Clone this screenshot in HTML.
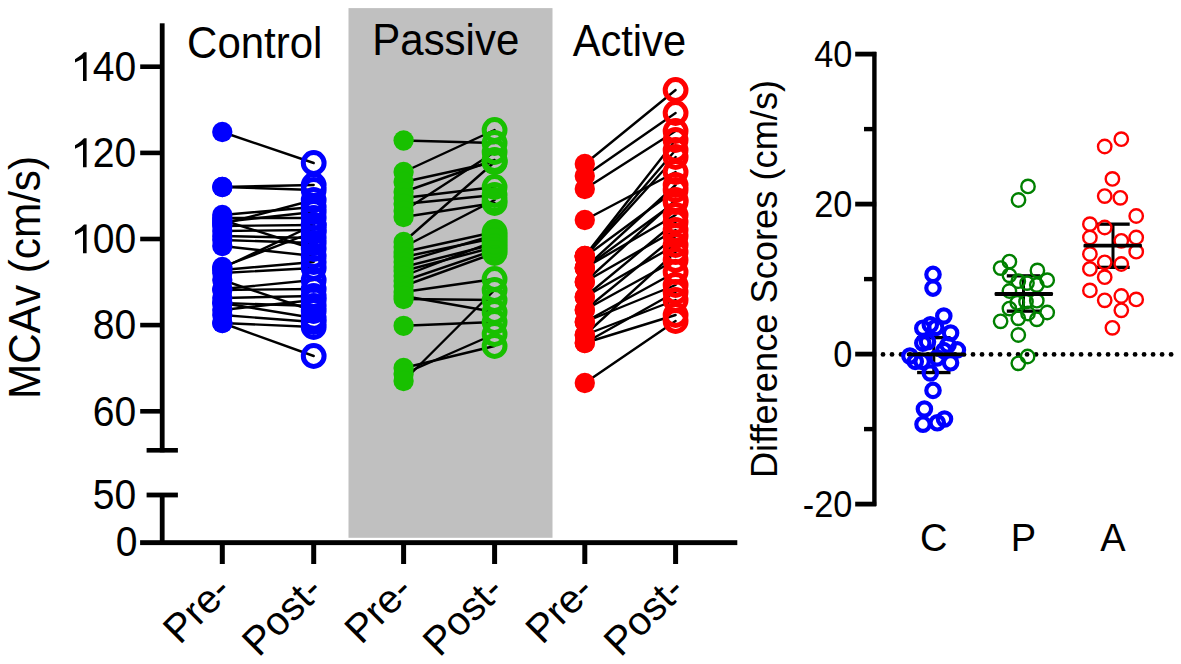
<!DOCTYPE html>
<html><head><meta charset="utf-8"><style>html,body{margin:0;padding:0;background:#fff;overflow:hidden}svg{display:block}</style></head>
<body><svg width="1181" height="664" viewBox="0 0 1181 664">
<rect x="0" y="0" width="1181" height="664" fill="#fff"/>
<rect x="348.5" y="8.1" width="204" height="529.7" fill="#c0c0c0"/>
<line x1="222.3" y1="132" x2="313.7" y2="163" stroke="#000" stroke-width="2.4" stroke-linecap="round"/>
<line x1="222.3" y1="187" x2="313.7" y2="185" stroke="#000" stroke-width="2.4" stroke-linecap="round"/>
<line x1="222.3" y1="187" x2="313.7" y2="190" stroke="#000" stroke-width="2.4" stroke-linecap="round"/>
<line x1="222.3" y1="215" x2="313.7" y2="207" stroke="#000" stroke-width="2.4" stroke-linecap="round"/>
<line x1="222.3" y1="218" x2="313.7" y2="218" stroke="#000" stroke-width="2.4" stroke-linecap="round"/>
<line x1="222.3" y1="220" x2="313.7" y2="249" stroke="#000" stroke-width="2.4" stroke-linecap="round"/>
<line x1="222.3" y1="222" x2="313.7" y2="212" stroke="#000" stroke-width="2.4" stroke-linecap="round"/>
<line x1="222.3" y1="224" x2="313.7" y2="200" stroke="#000" stroke-width="2.4" stroke-linecap="round"/>
<line x1="222.3" y1="226" x2="313.7" y2="225" stroke="#000" stroke-width="2.4" stroke-linecap="round"/>
<line x1="222.3" y1="231" x2="313.7" y2="230" stroke="#000" stroke-width="2.4" stroke-linecap="round"/>
<line x1="222.3" y1="236" x2="313.7" y2="238" stroke="#000" stroke-width="2.4" stroke-linecap="round"/>
<line x1="222.3" y1="240" x2="313.7" y2="243" stroke="#000" stroke-width="2.4" stroke-linecap="round"/>
<line x1="222.3" y1="246" x2="313.7" y2="256" stroke="#000" stroke-width="2.4" stroke-linecap="round"/>
<line x1="222.3" y1="267" x2="313.7" y2="232" stroke="#000" stroke-width="2.4" stroke-linecap="round"/>
<line x1="222.3" y1="268" x2="313.7" y2="225" stroke="#000" stroke-width="2.4" stroke-linecap="round"/>
<line x1="222.3" y1="270" x2="313.7" y2="262" stroke="#000" stroke-width="2.4" stroke-linecap="round"/>
<line x1="222.3" y1="273" x2="313.7" y2="268" stroke="#000" stroke-width="2.4" stroke-linecap="round"/>
<line x1="222.3" y1="280" x2="313.7" y2="311" stroke="#000" stroke-width="2.4" stroke-linecap="round"/>
<line x1="222.3" y1="289" x2="313.7" y2="280" stroke="#000" stroke-width="2.4" stroke-linecap="round"/>
<line x1="222.3" y1="290" x2="313.7" y2="289" stroke="#000" stroke-width="2.4" stroke-linecap="round"/>
<line x1="222.3" y1="298" x2="313.7" y2="296" stroke="#000" stroke-width="2.4" stroke-linecap="round"/>
<line x1="222.3" y1="303" x2="313.7" y2="306" stroke="#000" stroke-width="2.4" stroke-linecap="round"/>
<line x1="222.3" y1="303" x2="313.7" y2="318" stroke="#000" stroke-width="2.4" stroke-linecap="round"/>
<line x1="222.3" y1="323" x2="313.7" y2="327" stroke="#000" stroke-width="2.4" stroke-linecap="round"/>
<line x1="222.3" y1="323" x2="313.7" y2="356" stroke="#000" stroke-width="2.4" stroke-linecap="round"/>
<line x1="222.3" y1="310" x2="313.7" y2="300" stroke="#000" stroke-width="2.4" stroke-linecap="round"/>
<line x1="222.3" y1="315" x2="313.7" y2="322" stroke="#000" stroke-width="2.4" stroke-linecap="round"/>
<circle cx="313.7" cy="163" r="10.4" fill="none" stroke="#0000ff" stroke-width="5"/>
<circle cx="313.7" cy="185" r="10.4" fill="none" stroke="#0000ff" stroke-width="5"/>
<circle cx="313.7" cy="190" r="10.4" fill="none" stroke="#0000ff" stroke-width="5"/>
<circle cx="313.7" cy="207" r="10.4" fill="none" stroke="#0000ff" stroke-width="5"/>
<circle cx="313.7" cy="218" r="10.4" fill="none" stroke="#0000ff" stroke-width="5"/>
<circle cx="313.7" cy="249" r="10.4" fill="none" stroke="#0000ff" stroke-width="5"/>
<circle cx="313.7" cy="212" r="10.4" fill="none" stroke="#0000ff" stroke-width="5"/>
<circle cx="313.7" cy="200" r="10.4" fill="none" stroke="#0000ff" stroke-width="5"/>
<circle cx="313.7" cy="225" r="10.4" fill="none" stroke="#0000ff" stroke-width="5"/>
<circle cx="313.7" cy="230" r="10.4" fill="none" stroke="#0000ff" stroke-width="5"/>
<circle cx="313.7" cy="238" r="10.4" fill="none" stroke="#0000ff" stroke-width="5"/>
<circle cx="313.7" cy="243" r="10.4" fill="none" stroke="#0000ff" stroke-width="5"/>
<circle cx="313.7" cy="256" r="10.4" fill="none" stroke="#0000ff" stroke-width="5"/>
<circle cx="313.7" cy="232" r="10.4" fill="none" stroke="#0000ff" stroke-width="5"/>
<circle cx="313.7" cy="225" r="10.4" fill="none" stroke="#0000ff" stroke-width="5"/>
<circle cx="313.7" cy="262" r="10.4" fill="none" stroke="#0000ff" stroke-width="5"/>
<circle cx="313.7" cy="268" r="10.4" fill="none" stroke="#0000ff" stroke-width="5"/>
<circle cx="313.7" cy="311" r="10.4" fill="none" stroke="#0000ff" stroke-width="5"/>
<circle cx="313.7" cy="280" r="10.4" fill="none" stroke="#0000ff" stroke-width="5"/>
<circle cx="313.7" cy="289" r="10.4" fill="none" stroke="#0000ff" stroke-width="5"/>
<circle cx="313.7" cy="296" r="10.4" fill="none" stroke="#0000ff" stroke-width="5"/>
<circle cx="313.7" cy="306" r="10.4" fill="none" stroke="#0000ff" stroke-width="5"/>
<circle cx="313.7" cy="318" r="10.4" fill="none" stroke="#0000ff" stroke-width="5"/>
<circle cx="313.7" cy="327" r="10.4" fill="none" stroke="#0000ff" stroke-width="5"/>
<circle cx="313.7" cy="356" r="10.4" fill="none" stroke="#0000ff" stroke-width="5"/>
<circle cx="313.7" cy="300" r="10.4" fill="none" stroke="#0000ff" stroke-width="5"/>
<circle cx="313.7" cy="322" r="10.4" fill="none" stroke="#0000ff" stroke-width="5"/>
<circle cx="222.3" cy="132" r="10.15" fill="#0000ff"/>
<circle cx="222.3" cy="187" r="10.15" fill="#0000ff"/>
<circle cx="222.3" cy="187" r="10.15" fill="#0000ff"/>
<circle cx="222.3" cy="215" r="10.15" fill="#0000ff"/>
<circle cx="222.3" cy="218" r="10.15" fill="#0000ff"/>
<circle cx="222.3" cy="220" r="10.15" fill="#0000ff"/>
<circle cx="222.3" cy="222" r="10.15" fill="#0000ff"/>
<circle cx="222.3" cy="224" r="10.15" fill="#0000ff"/>
<circle cx="222.3" cy="226" r="10.15" fill="#0000ff"/>
<circle cx="222.3" cy="231" r="10.15" fill="#0000ff"/>
<circle cx="222.3" cy="236" r="10.15" fill="#0000ff"/>
<circle cx="222.3" cy="240" r="10.15" fill="#0000ff"/>
<circle cx="222.3" cy="246" r="10.15" fill="#0000ff"/>
<circle cx="222.3" cy="267" r="10.15" fill="#0000ff"/>
<circle cx="222.3" cy="268" r="10.15" fill="#0000ff"/>
<circle cx="222.3" cy="270" r="10.15" fill="#0000ff"/>
<circle cx="222.3" cy="273" r="10.15" fill="#0000ff"/>
<circle cx="222.3" cy="280" r="10.15" fill="#0000ff"/>
<circle cx="222.3" cy="289" r="10.15" fill="#0000ff"/>
<circle cx="222.3" cy="290" r="10.15" fill="#0000ff"/>
<circle cx="222.3" cy="298" r="10.15" fill="#0000ff"/>
<circle cx="222.3" cy="303" r="10.15" fill="#0000ff"/>
<circle cx="222.3" cy="303" r="10.15" fill="#0000ff"/>
<circle cx="222.3" cy="323" r="10.15" fill="#0000ff"/>
<circle cx="222.3" cy="323" r="10.15" fill="#0000ff"/>
<circle cx="222.3" cy="310" r="10.15" fill="#0000ff"/>
<circle cx="222.3" cy="315" r="10.15" fill="#0000ff"/>
<line x1="403.6" y1="140.5" x2="494.6" y2="143" stroke="#000" stroke-width="2.4" stroke-linecap="round"/>
<line x1="403.6" y1="172" x2="494.6" y2="130" stroke="#000" stroke-width="2.4" stroke-linecap="round"/>
<line x1="403.6" y1="182" x2="494.6" y2="162" stroke="#000" stroke-width="2.4" stroke-linecap="round"/>
<line x1="403.6" y1="192" x2="494.6" y2="160" stroke="#000" stroke-width="2.4" stroke-linecap="round"/>
<line x1="403.6" y1="198" x2="494.6" y2="187" stroke="#000" stroke-width="2.4" stroke-linecap="round"/>
<line x1="403.6" y1="204" x2="494.6" y2="195" stroke="#000" stroke-width="2.4" stroke-linecap="round"/>
<line x1="403.6" y1="211" x2="494.6" y2="152" stroke="#000" stroke-width="2.4" stroke-linecap="round"/>
<line x1="403.6" y1="217" x2="494.6" y2="203" stroke="#000" stroke-width="2.4" stroke-linecap="round"/>
<line x1="403.6" y1="242" x2="494.6" y2="162" stroke="#000" stroke-width="2.4" stroke-linecap="round"/>
<line x1="403.6" y1="247" x2="494.6" y2="200" stroke="#000" stroke-width="2.4" stroke-linecap="round"/>
<line x1="403.6" y1="252" x2="494.6" y2="232" stroke="#000" stroke-width="2.4" stroke-linecap="round"/>
<line x1="403.6" y1="257" x2="494.6" y2="238" stroke="#000" stroke-width="2.4" stroke-linecap="round"/>
<line x1="403.6" y1="262" x2="494.6" y2="235" stroke="#000" stroke-width="2.4" stroke-linecap="round"/>
<line x1="403.6" y1="267" x2="494.6" y2="244" stroke="#000" stroke-width="2.4" stroke-linecap="round"/>
<line x1="403.6" y1="271" x2="494.6" y2="247" stroke="#000" stroke-width="2.4" stroke-linecap="round"/>
<line x1="403.6" y1="276" x2="494.6" y2="241" stroke="#000" stroke-width="2.4" stroke-linecap="round"/>
<line x1="403.6" y1="281" x2="494.6" y2="250" stroke="#000" stroke-width="2.4" stroke-linecap="round"/>
<line x1="403.6" y1="286" x2="494.6" y2="253" stroke="#000" stroke-width="2.4" stroke-linecap="round"/>
<line x1="403.6" y1="292" x2="494.6" y2="279" stroke="#000" stroke-width="2.4" stroke-linecap="round"/>
<line x1="403.6" y1="299" x2="494.6" y2="300" stroke="#000" stroke-width="2.4" stroke-linecap="round"/>
<line x1="403.6" y1="296" x2="494.6" y2="312" stroke="#000" stroke-width="2.4" stroke-linecap="round"/>
<line x1="403.6" y1="325.8" x2="494.6" y2="322" stroke="#000" stroke-width="2.4" stroke-linecap="round"/>
<line x1="403.6" y1="368" x2="494.6" y2="346" stroke="#000" stroke-width="2.4" stroke-linecap="round"/>
<line x1="403.6" y1="374" x2="494.6" y2="334" stroke="#000" stroke-width="2.4" stroke-linecap="round"/>
<line x1="403.6" y1="381" x2="494.6" y2="290" stroke="#000" stroke-width="2.4" stroke-linecap="round"/>
<circle cx="494.6" cy="143" r="10.4" fill="none" stroke="#18c000" stroke-width="5"/>
<circle cx="494.6" cy="130" r="10.4" fill="none" stroke="#18c000" stroke-width="5"/>
<circle cx="494.6" cy="162" r="10.4" fill="none" stroke="#18c000" stroke-width="5"/>
<circle cx="494.6" cy="160" r="10.4" fill="none" stroke="#18c000" stroke-width="5"/>
<circle cx="494.6" cy="187" r="10.4" fill="none" stroke="#18c000" stroke-width="5"/>
<circle cx="494.6" cy="195" r="10.4" fill="none" stroke="#18c000" stroke-width="5"/>
<circle cx="494.6" cy="152" r="10.4" fill="none" stroke="#18c000" stroke-width="5"/>
<circle cx="494.6" cy="203" r="10.4" fill="none" stroke="#18c000" stroke-width="5"/>
<circle cx="494.6" cy="162" r="10.4" fill="none" stroke="#18c000" stroke-width="5"/>
<circle cx="494.6" cy="200" r="10.4" fill="none" stroke="#18c000" stroke-width="5"/>
<circle cx="494.6" cy="232" r="10.4" fill="none" stroke="#18c000" stroke-width="5"/>
<circle cx="494.6" cy="238" r="10.4" fill="none" stroke="#18c000" stroke-width="5"/>
<circle cx="494.6" cy="235" r="10.4" fill="none" stroke="#18c000" stroke-width="5"/>
<circle cx="494.6" cy="244" r="10.4" fill="none" stroke="#18c000" stroke-width="5"/>
<circle cx="494.6" cy="247" r="10.4" fill="none" stroke="#18c000" stroke-width="5"/>
<circle cx="494.6" cy="241" r="10.4" fill="none" stroke="#18c000" stroke-width="5"/>
<circle cx="494.6" cy="250" r="10.4" fill="none" stroke="#18c000" stroke-width="5"/>
<circle cx="494.6" cy="253" r="10.4" fill="none" stroke="#18c000" stroke-width="5"/>
<circle cx="494.6" cy="279" r="10.4" fill="none" stroke="#18c000" stroke-width="5"/>
<circle cx="494.6" cy="300" r="10.4" fill="none" stroke="#18c000" stroke-width="5"/>
<circle cx="494.6" cy="312" r="10.4" fill="none" stroke="#18c000" stroke-width="5"/>
<circle cx="494.6" cy="322" r="10.4" fill="none" stroke="#18c000" stroke-width="5"/>
<circle cx="494.6" cy="346" r="10.4" fill="none" stroke="#18c000" stroke-width="5"/>
<circle cx="494.6" cy="334" r="10.4" fill="none" stroke="#18c000" stroke-width="5"/>
<circle cx="494.6" cy="290" r="10.4" fill="none" stroke="#18c000" stroke-width="5"/>
<circle cx="403.6" cy="140.5" r="10.15" fill="#18c000"/>
<circle cx="403.6" cy="172" r="10.15" fill="#18c000"/>
<circle cx="403.6" cy="182" r="10.15" fill="#18c000"/>
<circle cx="403.6" cy="192" r="10.15" fill="#18c000"/>
<circle cx="403.6" cy="198" r="10.15" fill="#18c000"/>
<circle cx="403.6" cy="204" r="10.15" fill="#18c000"/>
<circle cx="403.6" cy="211" r="10.15" fill="#18c000"/>
<circle cx="403.6" cy="217" r="10.15" fill="#18c000"/>
<circle cx="403.6" cy="242" r="10.15" fill="#18c000"/>
<circle cx="403.6" cy="247" r="10.15" fill="#18c000"/>
<circle cx="403.6" cy="252" r="10.15" fill="#18c000"/>
<circle cx="403.6" cy="257" r="10.15" fill="#18c000"/>
<circle cx="403.6" cy="262" r="10.15" fill="#18c000"/>
<circle cx="403.6" cy="267" r="10.15" fill="#18c000"/>
<circle cx="403.6" cy="271" r="10.15" fill="#18c000"/>
<circle cx="403.6" cy="276" r="10.15" fill="#18c000"/>
<circle cx="403.6" cy="281" r="10.15" fill="#18c000"/>
<circle cx="403.6" cy="286" r="10.15" fill="#18c000"/>
<circle cx="403.6" cy="292" r="10.15" fill="#18c000"/>
<circle cx="403.6" cy="299" r="10.15" fill="#18c000"/>
<circle cx="403.6" cy="296" r="10.15" fill="#18c000"/>
<circle cx="403.6" cy="325.8" r="10.15" fill="#18c000"/>
<circle cx="403.6" cy="368" r="10.15" fill="#18c000"/>
<circle cx="403.6" cy="374" r="10.15" fill="#18c000"/>
<circle cx="403.6" cy="381" r="10.15" fill="#18c000"/>
<line x1="584.8" y1="164" x2="675.6" y2="90" stroke="#000" stroke-width="2.4" stroke-linecap="round"/>
<line x1="584.8" y1="176" x2="675.6" y2="113" stroke="#000" stroke-width="2.4" stroke-linecap="round"/>
<line x1="584.8" y1="189" x2="675.6" y2="131" stroke="#000" stroke-width="2.4" stroke-linecap="round"/>
<line x1="584.8" y1="220" x2="675.6" y2="172" stroke="#000" stroke-width="2.4" stroke-linecap="round"/>
<line x1="584.8" y1="256" x2="675.6" y2="140" stroke="#000" stroke-width="2.4" stroke-linecap="round"/>
<line x1="584.8" y1="256" x2="675.6" y2="150" stroke="#000" stroke-width="2.4" stroke-linecap="round"/>
<line x1="584.8" y1="257" x2="675.6" y2="157" stroke="#000" stroke-width="2.4" stroke-linecap="round"/>
<line x1="584.8" y1="257" x2="675.6" y2="190" stroke="#000" stroke-width="2.4" stroke-linecap="round"/>
<line x1="584.8" y1="268" x2="675.6" y2="202" stroke="#000" stroke-width="2.4" stroke-linecap="round"/>
<line x1="584.8" y1="268" x2="675.6" y2="215" stroke="#000" stroke-width="2.4" stroke-linecap="round"/>
<line x1="584.8" y1="268" x2="675.6" y2="185" stroke="#000" stroke-width="2.4" stroke-linecap="round"/>
<line x1="584.8" y1="282" x2="675.6" y2="230" stroke="#000" stroke-width="2.4" stroke-linecap="round"/>
<line x1="584.8" y1="282" x2="675.6" y2="200" stroke="#000" stroke-width="2.4" stroke-linecap="round"/>
<line x1="584.8" y1="297" x2="675.6" y2="245" stroke="#000" stroke-width="2.4" stroke-linecap="round"/>
<line x1="584.8" y1="297" x2="675.6" y2="222" stroke="#000" stroke-width="2.4" stroke-linecap="round"/>
<line x1="584.8" y1="310" x2="675.6" y2="260" stroke="#000" stroke-width="2.4" stroke-linecap="round"/>
<line x1="584.8" y1="310" x2="675.6" y2="236" stroke="#000" stroke-width="2.4" stroke-linecap="round"/>
<line x1="584.8" y1="322" x2="675.6" y2="272" stroke="#000" stroke-width="2.4" stroke-linecap="round"/>
<line x1="584.8" y1="322" x2="675.6" y2="285" stroke="#000" stroke-width="2.4" stroke-linecap="round"/>
<line x1="584.8" y1="335" x2="675.6" y2="252" stroke="#000" stroke-width="2.4" stroke-linecap="round"/>
<line x1="584.8" y1="335" x2="675.6" y2="300" stroke="#000" stroke-width="2.4" stroke-linecap="round"/>
<line x1="584.8" y1="343" x2="675.6" y2="292" stroke="#000" stroke-width="2.4" stroke-linecap="round"/>
<line x1="584.8" y1="343" x2="675.6" y2="315" stroke="#000" stroke-width="2.4" stroke-linecap="round"/>
<line x1="584.8" y1="383" x2="675.6" y2="321" stroke="#000" stroke-width="2.4" stroke-linecap="round"/>
<circle cx="675.6" cy="90" r="10.4" fill="none" stroke="#ff0000" stroke-width="5"/>
<circle cx="675.6" cy="113" r="10.4" fill="none" stroke="#ff0000" stroke-width="5"/>
<circle cx="675.6" cy="131" r="10.4" fill="none" stroke="#ff0000" stroke-width="5"/>
<circle cx="675.6" cy="172" r="10.4" fill="none" stroke="#ff0000" stroke-width="5"/>
<circle cx="675.6" cy="140" r="10.4" fill="none" stroke="#ff0000" stroke-width="5"/>
<circle cx="675.6" cy="150" r="10.4" fill="none" stroke="#ff0000" stroke-width="5"/>
<circle cx="675.6" cy="157" r="10.4" fill="none" stroke="#ff0000" stroke-width="5"/>
<circle cx="675.6" cy="190" r="10.4" fill="none" stroke="#ff0000" stroke-width="5"/>
<circle cx="675.6" cy="202" r="10.4" fill="none" stroke="#ff0000" stroke-width="5"/>
<circle cx="675.6" cy="215" r="10.4" fill="none" stroke="#ff0000" stroke-width="5"/>
<circle cx="675.6" cy="185" r="10.4" fill="none" stroke="#ff0000" stroke-width="5"/>
<circle cx="675.6" cy="230" r="10.4" fill="none" stroke="#ff0000" stroke-width="5"/>
<circle cx="675.6" cy="200" r="10.4" fill="none" stroke="#ff0000" stroke-width="5"/>
<circle cx="675.6" cy="245" r="10.4" fill="none" stroke="#ff0000" stroke-width="5"/>
<circle cx="675.6" cy="222" r="10.4" fill="none" stroke="#ff0000" stroke-width="5"/>
<circle cx="675.6" cy="260" r="10.4" fill="none" stroke="#ff0000" stroke-width="5"/>
<circle cx="675.6" cy="236" r="10.4" fill="none" stroke="#ff0000" stroke-width="5"/>
<circle cx="675.6" cy="272" r="10.4" fill="none" stroke="#ff0000" stroke-width="5"/>
<circle cx="675.6" cy="285" r="10.4" fill="none" stroke="#ff0000" stroke-width="5"/>
<circle cx="675.6" cy="252" r="10.4" fill="none" stroke="#ff0000" stroke-width="5"/>
<circle cx="675.6" cy="300" r="10.4" fill="none" stroke="#ff0000" stroke-width="5"/>
<circle cx="675.6" cy="292" r="10.4" fill="none" stroke="#ff0000" stroke-width="5"/>
<circle cx="675.6" cy="315" r="10.4" fill="none" stroke="#ff0000" stroke-width="5"/>
<circle cx="675.6" cy="321" r="10.4" fill="none" stroke="#ff0000" stroke-width="5"/>
<circle cx="584.8" cy="164" r="10.15" fill="#ff0000"/>
<circle cx="584.8" cy="176" r="10.15" fill="#ff0000"/>
<circle cx="584.8" cy="189" r="10.15" fill="#ff0000"/>
<circle cx="584.8" cy="220" r="10.15" fill="#ff0000"/>
<circle cx="584.8" cy="256" r="10.15" fill="#ff0000"/>
<circle cx="584.8" cy="256" r="10.15" fill="#ff0000"/>
<circle cx="584.8" cy="257" r="10.15" fill="#ff0000"/>
<circle cx="584.8" cy="257" r="10.15" fill="#ff0000"/>
<circle cx="584.8" cy="268" r="10.15" fill="#ff0000"/>
<circle cx="584.8" cy="268" r="10.15" fill="#ff0000"/>
<circle cx="584.8" cy="268" r="10.15" fill="#ff0000"/>
<circle cx="584.8" cy="282" r="10.15" fill="#ff0000"/>
<circle cx="584.8" cy="282" r="10.15" fill="#ff0000"/>
<circle cx="584.8" cy="297" r="10.15" fill="#ff0000"/>
<circle cx="584.8" cy="297" r="10.15" fill="#ff0000"/>
<circle cx="584.8" cy="310" r="10.15" fill="#ff0000"/>
<circle cx="584.8" cy="310" r="10.15" fill="#ff0000"/>
<circle cx="584.8" cy="322" r="10.15" fill="#ff0000"/>
<circle cx="584.8" cy="322" r="10.15" fill="#ff0000"/>
<circle cx="584.8" cy="335" r="10.15" fill="#ff0000"/>
<circle cx="584.8" cy="335" r="10.15" fill="#ff0000"/>
<circle cx="584.8" cy="343" r="10.15" fill="#ff0000"/>
<circle cx="584.8" cy="343" r="10.15" fill="#ff0000"/>
<circle cx="584.8" cy="383" r="10.15" fill="#ff0000"/>
<rect x="159.8" y="23.3" width="4.8" height="429" fill="#000"/>
<rect x="140.2" y="64.4" width="22" height="4.6" fill="#000"/>
<rect x="140.2" y="150.6" width="22" height="4.6" fill="#000"/>
<rect x="140.2" y="236.7" width="22" height="4.6" fill="#000"/>
<rect x="140.2" y="322.8" width="22" height="4.6" fill="#000"/>
<rect x="140.2" y="409.0" width="22" height="4.6" fill="#000"/>
<rect x="146.6" y="448" width="31.3" height="4.6" fill="#000"/>
<rect x="146.6" y="492.6" width="31.3" height="4.8" fill="#000"/>
<rect x="159.8" y="494" width="4.8" height="48" fill="#000"/>
<rect x="140.1" y="540.2" width="597.2" height="4.9" fill="#000"/>
<rect x="219.8" y="542" width="5" height="22" fill="#000"/>
<rect x="311.2" y="542" width="5" height="22" fill="#000"/>
<rect x="401.1" y="542" width="5" height="22" fill="#000"/>
<rect x="492.1" y="542" width="5" height="22" fill="#000"/>
<rect x="582.3" y="542" width="5" height="22" fill="#000"/>
<rect x="673.1" y="542" width="5" height="22" fill="#000"/>
<text transform="translate(136.2,81.0) scale(0.93,1)" font-size="42" text-anchor="end" font-family="Liberation Sans, sans-serif" fill="#000">40</text>
<path d="M86.60,52.20 L84.00,52.20 L81.20,54.90 L78.00,57.30 L75.00,59.20 L75.00,62.60 L79.20,60.60 L83.00,58.40 L83.00,81.00 L86.60,81.00 Z" fill="#000"/>
<text transform="translate(136.2,167.15000000000003) scale(0.93,1)" font-size="42" text-anchor="end" font-family="Liberation Sans, sans-serif" fill="#000">20</text>
<path d="M86.60,138.35 L84.00,138.35 L81.20,141.05 L78.00,143.45 L75.00,145.35 L75.00,148.75 L79.20,146.75 L83.00,144.55 L83.00,167.15 L86.60,167.15 Z" fill="#000"/>
<text transform="translate(136.2,253.3) scale(0.93,1)" font-size="42" text-anchor="end" font-family="Liberation Sans, sans-serif" fill="#000">00</text>
<path d="M86.60,224.50 L84.00,224.50 L81.20,227.20 L78.00,229.60 L75.00,231.50 L75.00,234.90 L79.20,232.90 L83.00,230.70 L83.00,253.30 L86.60,253.30 Z" fill="#000"/>
<text transform="translate(136.2,339.45) scale(0.93,1)" font-size="42" text-anchor="end" font-family="Liberation Sans, sans-serif" fill="#000">80</text>
<text transform="translate(136.2,425.6) scale(0.93,1)" font-size="42" text-anchor="end" font-family="Liberation Sans, sans-serif" fill="#000">60</text>
<text transform="translate(136.2,509.3) scale(0.93,1)" font-size="42" text-anchor="end" font-family="Liberation Sans, sans-serif" fill="#000">50</text>
<text transform="translate(137.6,556.3) scale(0.93,1)" font-size="42" text-anchor="end" font-family="Liberation Sans, sans-serif" fill="#000">0</text>
<text transform="translate(39.6,399.1) rotate(-90) scale(0.96,1)" font-size="44" text-anchor="start" font-family="Liberation Sans, sans-serif" fill="#000">MCAv (cm/s)</text>
<text transform="translate(187.1,58) scale(0.965,1)" font-size="43.5" text-anchor="start" font-family="Liberation Sans, sans-serif" fill="#000">Control</text>
<text transform="translate(372.3,55.1) scale(0.965,1)" font-size="43.5" text-anchor="start" font-family="Liberation Sans, sans-serif" fill="#000">Passive</text>
<text transform="translate(572.7,56) scale(0.957,1)" font-size="43.5" text-anchor="start" font-family="Liberation Sans, sans-serif" fill="#000">Active</text>
<text transform="translate(233.3,592) rotate(-45)" font-size="40" text-anchor="end" font-family="Liberation Sans, sans-serif" fill="#000">Pre-</text>
<text transform="translate(324.7,592) rotate(-45)" font-size="40" text-anchor="end" font-family="Liberation Sans, sans-serif" fill="#000">Post-</text>
<text transform="translate(414.6,592) rotate(-45)" font-size="40" text-anchor="end" font-family="Liberation Sans, sans-serif" fill="#000">Pre-</text>
<text transform="translate(505.6,592) rotate(-45)" font-size="40" text-anchor="end" font-family="Liberation Sans, sans-serif" fill="#000">Post-</text>
<text transform="translate(595.8,592) rotate(-45)" font-size="40" text-anchor="end" font-family="Liberation Sans, sans-serif" fill="#000">Pre-</text>
<text transform="translate(686.6,592) rotate(-45)" font-size="40" text-anchor="end" font-family="Liberation Sans, sans-serif" fill="#000">Post-</text>
<rect x="872.2" y="51.9" width="4.4" height="454" fill="#000"/>
<rect x="855.2" y="51.7" width="21" height="4.8" fill="#000"/>
<rect x="855.2" y="201.7" width="21" height="4.8" fill="#000"/>
<rect x="855.2" y="351.7" width="21" height="4.8" fill="#000"/>
<rect x="855.2" y="501.7" width="21" height="4.8" fill="#000"/>
<rect x="864" y="126.9" width="12" height="4.4" fill="#000"/>
<rect x="864" y="276.9" width="12" height="4.4" fill="#000"/>
<rect x="864" y="426.9" width="12" height="4.4" fill="#000"/>
<text transform="translate(852.4,67.00000000000003) scale(0.915,1)" font-size="37.5" text-anchor="end" font-family="Liberation Sans, sans-serif" fill="#000">40</text>
<text transform="translate(852.4,217.00000000000003) scale(0.915,1)" font-size="37.5" text-anchor="end" font-family="Liberation Sans, sans-serif" fill="#000">20</text>
<text transform="translate(852.4,367.0) scale(0.915,1)" font-size="37.5" text-anchor="end" font-family="Liberation Sans, sans-serif" fill="#000">0</text>
<text transform="translate(852.4,517.0) scale(0.915,1)" font-size="37.5" text-anchor="end" font-family="Liberation Sans, sans-serif" fill="#000">-20</text>
<text transform="translate(777.3,478.1) rotate(-90) scale(0.98,1)" font-size="37" text-anchor="start" font-family="Liberation Sans, sans-serif" fill="#000">Difference Scores (cm/s)</text>
<text transform="translate(933.8,550.5)" font-size="38" text-anchor="middle" font-family="Liberation Sans, sans-serif" fill="#000">C</text>
<text transform="translate(1023.5,550.5)" font-size="38" text-anchor="middle" font-family="Liberation Sans, sans-serif" fill="#000">P</text>
<text transform="translate(1113,550.5)" font-size="38" text-anchor="middle" font-family="Liberation Sans, sans-serif" fill="#000">A</text>
<circle cx="883.00" cy="354.4" r="2.4" fill="#000"/>
<circle cx="892.00" cy="354.4" r="2.4" fill="#000"/>
<circle cx="901.01" cy="354.4" r="2.4" fill="#000"/>
<circle cx="910.01" cy="354.4" r="2.4" fill="#000"/>
<circle cx="919.01" cy="354.4" r="2.4" fill="#000"/>
<circle cx="928.01" cy="354.4" r="2.4" fill="#000"/>
<circle cx="937.02" cy="354.4" r="2.4" fill="#000"/>
<circle cx="946.02" cy="354.4" r="2.4" fill="#000"/>
<circle cx="955.02" cy="354.4" r="2.4" fill="#000"/>
<circle cx="964.03" cy="354.4" r="2.4" fill="#000"/>
<circle cx="973.03" cy="354.4" r="2.4" fill="#000"/>
<circle cx="982.03" cy="354.4" r="2.4" fill="#000"/>
<circle cx="991.04" cy="354.4" r="2.4" fill="#000"/>
<circle cx="1000.04" cy="354.4" r="2.4" fill="#000"/>
<circle cx="1009.04" cy="354.4" r="2.4" fill="#000"/>
<circle cx="1018.05" cy="354.4" r="2.4" fill="#000"/>
<circle cx="1027.05" cy="354.4" r="2.4" fill="#000"/>
<circle cx="1036.05" cy="354.4" r="2.4" fill="#000"/>
<circle cx="1045.05" cy="354.4" r="2.4" fill="#000"/>
<circle cx="1054.06" cy="354.4" r="2.4" fill="#000"/>
<circle cx="1063.06" cy="354.4" r="2.4" fill="#000"/>
<circle cx="1072.06" cy="354.4" r="2.4" fill="#000"/>
<circle cx="1081.07" cy="354.4" r="2.4" fill="#000"/>
<circle cx="1090.07" cy="354.4" r="2.4" fill="#000"/>
<circle cx="1099.07" cy="354.4" r="2.4" fill="#000"/>
<circle cx="1108.08" cy="354.4" r="2.4" fill="#000"/>
<circle cx="1117.08" cy="354.4" r="2.4" fill="#000"/>
<circle cx="1126.08" cy="354.4" r="2.4" fill="#000"/>
<circle cx="1135.08" cy="354.4" r="2.4" fill="#000"/>
<circle cx="1144.09" cy="354.4" r="2.4" fill="#000"/>
<circle cx="1153.09" cy="354.4" r="2.4" fill="#000"/>
<circle cx="1162.09" cy="354.4" r="2.4" fill="#000"/>
<circle cx="1171.10" cy="354.4" r="2.4" fill="#000"/>
<rect x="917.1" y="336.0" width="33.4" height="3.3" fill="#000"/>
<rect x="917.1" y="370.9" width="33.4" height="3.3" fill="#000"/>
<rect x="932.3" y="337.6" width="3.0" height="34.9" fill="#000"/>
<rect x="1006.8" y="274.2" width="33.4" height="3.3" fill="#000"/>
<rect x="1006.8" y="309.5" width="33.4" height="3.3" fill="#000"/>
<rect x="1022.0" y="275.8" width="3.0" height="35.3" fill="#000"/>
<rect x="1096.3" y="222.5" width="33.4" height="3.3" fill="#000"/>
<rect x="1096.3" y="265.7" width="33.4" height="3.3" fill="#000"/>
<rect x="1111.5" y="224.2" width="3.0" height="43.1" fill="#000"/>
<circle cx="933" cy="274.4" r="6.7" fill="none" stroke="#0000ff" stroke-width="4.2"/>
<circle cx="933" cy="288.1" r="6.7" fill="none" stroke="#0000ff" stroke-width="4.2"/>
<circle cx="943.8" cy="316" r="6.7" fill="none" stroke="#0000ff" stroke-width="4.2"/>
<circle cx="922.8" cy="328.2" r="6.7" fill="none" stroke="#0000ff" stroke-width="4.2"/>
<circle cx="930.3" cy="324.8" r="6.7" fill="none" stroke="#0000ff" stroke-width="4.2"/>
<circle cx="935.7" cy="327.5" r="6.7" fill="none" stroke="#0000ff" stroke-width="4.2"/>
<circle cx="950.6" cy="333" r="6.7" fill="none" stroke="#0000ff" stroke-width="4.2"/>
<circle cx="922.8" cy="343.1" r="6.7" fill="none" stroke="#0000ff" stroke-width="4.2"/>
<circle cx="927.5" cy="341.8" r="6.7" fill="none" stroke="#0000ff" stroke-width="4.2"/>
<circle cx="957.4" cy="349.9" r="6.7" fill="none" stroke="#0000ff" stroke-width="4.2"/>
<circle cx="943.8" cy="350.6" r="6.7" fill="none" stroke="#0000ff" stroke-width="4.2"/>
<circle cx="909.9" cy="356" r="6.7" fill="none" stroke="#0000ff" stroke-width="4.2"/>
<circle cx="915.3" cy="361.4" r="6.7" fill="none" stroke="#0000ff" stroke-width="4.2"/>
<circle cx="922.1" cy="361.4" r="6.7" fill="none" stroke="#0000ff" stroke-width="4.2"/>
<circle cx="950.6" cy="362.8" r="6.7" fill="none" stroke="#0000ff" stroke-width="4.2"/>
<circle cx="930.3" cy="373" r="6.7" fill="none" stroke="#0000ff" stroke-width="4.2"/>
<circle cx="933" cy="390.4" r="6.7" fill="none" stroke="#0000ff" stroke-width="4.2"/>
<circle cx="924.4" cy="409" r="6.7" fill="none" stroke="#0000ff" stroke-width="4.2"/>
<circle cx="923" cy="424.2" r="6.7" fill="none" stroke="#0000ff" stroke-width="4.2"/>
<circle cx="937.3" cy="422.8" r="6.7" fill="none" stroke="#0000ff" stroke-width="4.2"/>
<circle cx="944.5" cy="419" r="6.7" fill="none" stroke="#0000ff" stroke-width="4.2"/>
<circle cx="937" cy="358" r="6.7" fill="none" stroke="#0000ff" stroke-width="4.2"/>
<circle cx="948" cy="345" r="6.7" fill="none" stroke="#0000ff" stroke-width="4.2"/>
<circle cx="1028" cy="186.4" r="6.7" fill="none" stroke="#008000" stroke-width="2.4"/>
<circle cx="1018.5" cy="200" r="6.7" fill="none" stroke="#008000" stroke-width="2.4"/>
<circle cx="1009.4" cy="261.6" r="6.7" fill="none" stroke="#008000" stroke-width="2.4"/>
<circle cx="1000.6" cy="268.1" r="6.7" fill="none" stroke="#008000" stroke-width="2.4"/>
<circle cx="1009.4" cy="275.3" r="6.7" fill="none" stroke="#008000" stroke-width="2.4"/>
<circle cx="1037.4" cy="270.4" r="6.7" fill="none" stroke="#008000" stroke-width="2.4"/>
<circle cx="1047.2" cy="280.2" r="6.7" fill="none" stroke="#008000" stroke-width="2.4"/>
<circle cx="1018.3" cy="281.2" r="6.7" fill="none" stroke="#008000" stroke-width="2.4"/>
<circle cx="1027" cy="283.1" r="6.7" fill="none" stroke="#008000" stroke-width="2.4"/>
<circle cx="1036.8" cy="285.1" r="6.7" fill="none" stroke="#008000" stroke-width="2.4"/>
<circle cx="1009.4" cy="291" r="6.7" fill="none" stroke="#008000" stroke-width="2.4"/>
<circle cx="1017.3" cy="302.7" r="6.7" fill="none" stroke="#008000" stroke-width="2.4"/>
<circle cx="1026" cy="301.7" r="6.7" fill="none" stroke="#008000" stroke-width="2.4"/>
<circle cx="1036.8" cy="300.7" r="6.7" fill="none" stroke="#008000" stroke-width="2.4"/>
<circle cx="1009.4" cy="308.6" r="6.7" fill="none" stroke="#008000" stroke-width="2.4"/>
<circle cx="1047.2" cy="312.5" r="6.7" fill="none" stroke="#008000" stroke-width="2.4"/>
<circle cx="1000.6" cy="321.3" r="6.7" fill="none" stroke="#008000" stroke-width="2.4"/>
<circle cx="1018.3" cy="318.3" r="6.7" fill="none" stroke="#008000" stroke-width="2.4"/>
<circle cx="1028" cy="313.5" r="6.7" fill="none" stroke="#008000" stroke-width="2.4"/>
<circle cx="1036.8" cy="319.3" r="6.7" fill="none" stroke="#008000" stroke-width="2.4"/>
<circle cx="1018.3" cy="335" r="6.7" fill="none" stroke="#008000" stroke-width="2.4"/>
<circle cx="1027.6" cy="356.5" r="6.7" fill="none" stroke="#008000" stroke-width="2.4"/>
<circle cx="1018.3" cy="363.3" r="6.7" fill="none" stroke="#008000" stroke-width="2.4"/>
<circle cx="1121.3" cy="139.2" r="6.7" fill="none" stroke="#ff0000" stroke-width="2.4"/>
<circle cx="1104.7" cy="146.5" r="6.7" fill="none" stroke="#ff0000" stroke-width="2.4"/>
<circle cx="1112.4" cy="178.9" r="6.7" fill="none" stroke="#ff0000" stroke-width="2.4"/>
<circle cx="1104.7" cy="196.1" r="6.7" fill="none" stroke="#ff0000" stroke-width="2.4"/>
<circle cx="1120.3" cy="197.8" r="6.7" fill="none" stroke="#ff0000" stroke-width="2.4"/>
<circle cx="1136.2" cy="216" r="6.7" fill="none" stroke="#ff0000" stroke-width="2.4"/>
<circle cx="1089.9" cy="224.2" r="6.7" fill="none" stroke="#ff0000" stroke-width="2.4"/>
<circle cx="1104.7" cy="227.5" r="6.7" fill="none" stroke="#ff0000" stroke-width="2.4"/>
<circle cx="1089.9" cy="237.5" r="6.7" fill="none" stroke="#ff0000" stroke-width="2.4"/>
<circle cx="1121.3" cy="240.8" r="6.7" fill="none" stroke="#ff0000" stroke-width="2.4"/>
<circle cx="1136.2" cy="237.5" r="6.7" fill="none" stroke="#ff0000" stroke-width="2.4"/>
<circle cx="1136.2" cy="251.7" r="6.7" fill="none" stroke="#ff0000" stroke-width="2.4"/>
<circle cx="1089.9" cy="254" r="6.7" fill="none" stroke="#ff0000" stroke-width="2.4"/>
<circle cx="1104.7" cy="262.3" r="6.7" fill="none" stroke="#ff0000" stroke-width="2.4"/>
<circle cx="1121.3" cy="264" r="6.7" fill="none" stroke="#ff0000" stroke-width="2.4"/>
<circle cx="1089.9" cy="268.9" r="6.7" fill="none" stroke="#ff0000" stroke-width="2.4"/>
<circle cx="1104.7" cy="277.2" r="6.7" fill="none" stroke="#ff0000" stroke-width="2.4"/>
<circle cx="1089.9" cy="290.4" r="6.7" fill="none" stroke="#ff0000" stroke-width="2.4"/>
<circle cx="1104.7" cy="300.3" r="6.7" fill="none" stroke="#ff0000" stroke-width="2.4"/>
<circle cx="1121.3" cy="296" r="6.7" fill="none" stroke="#ff0000" stroke-width="2.4"/>
<circle cx="1136.2" cy="299.4" r="6.7" fill="none" stroke="#ff0000" stroke-width="2.4"/>
<circle cx="1121.3" cy="310.3" r="6.7" fill="none" stroke="#ff0000" stroke-width="2.4"/>
<circle cx="1112.4" cy="327.8" r="6.7" fill="none" stroke="#ff0000" stroke-width="2.4"/>
<rect x="906.8" y="352.5" width="58.4" height="3.8" rx="1.2" fill="#000"/>
<rect x="994.6" y="292.1" width="58.4" height="3.8" rx="1.2" fill="#000"/>
<rect x="1083.5" y="243.8" width="58.4" height="3.8" rx="1.2" fill="#000"/>
</svg></body></html>
